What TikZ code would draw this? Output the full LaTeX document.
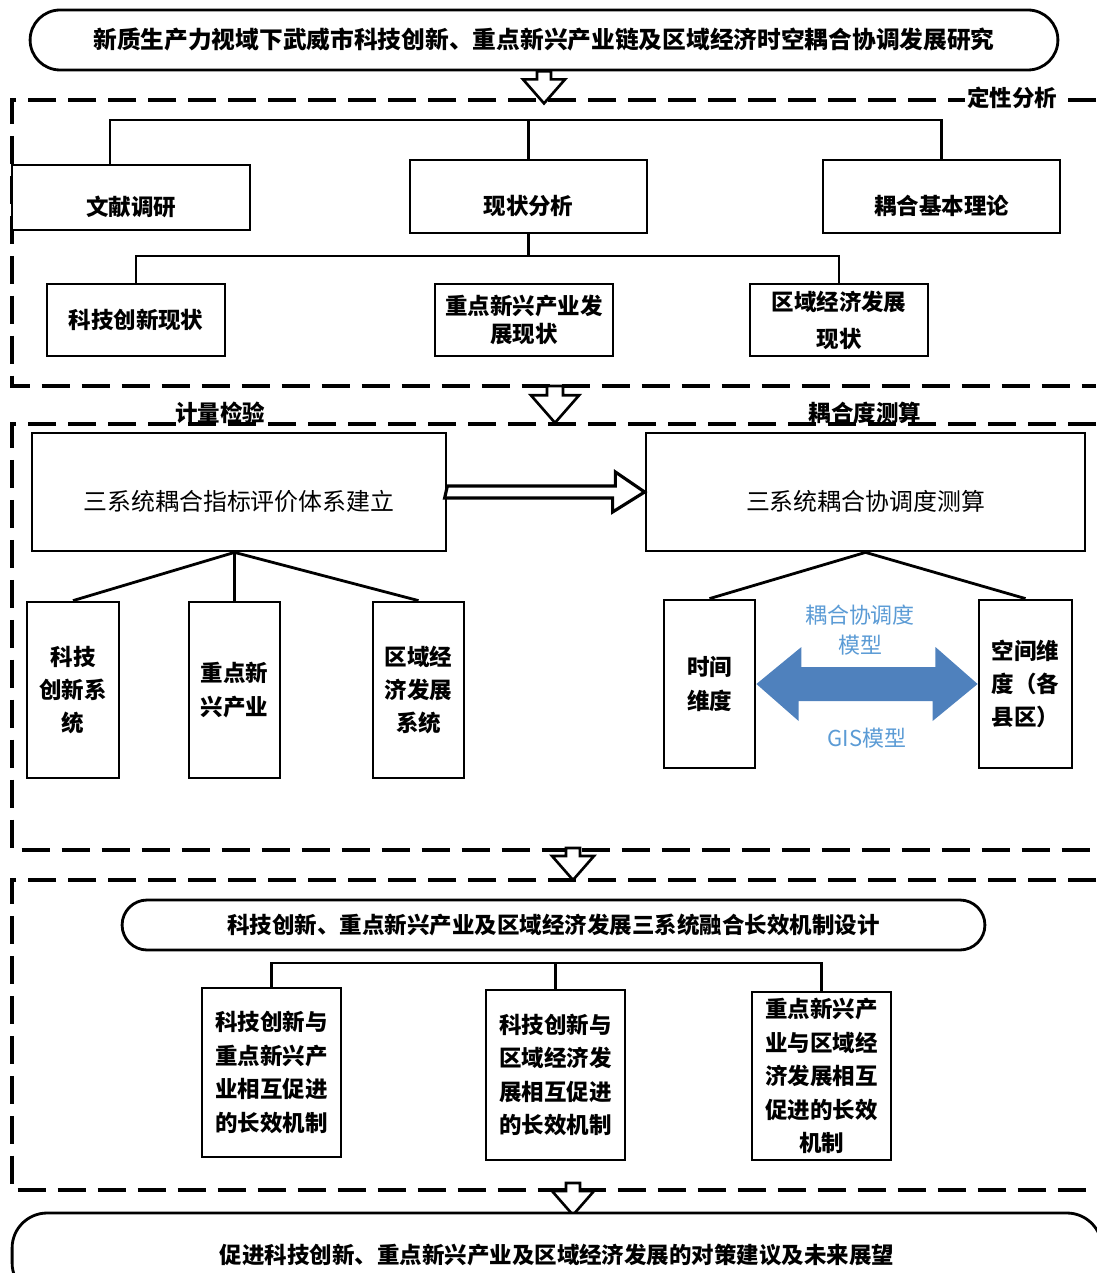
\documentclass[tikz,border=0pt]{standalone}
\usepackage{fontspec}
\setmainfont{Noto Sans CJK SC}
\definecolor{arrowblue}{HTML}{4F81BD}
\definecolor{labelblue}{HTML}{5B9BD5}
\tikzset{x=0.02cm, y=-0.02cm,
    box/.style={draw, line width=1.6pt, fill=white, inner sep=0pt, align=center,
        font=\fontsize{12.8}{19}\selectfont\bfseries},
    lowtext/.style={text height=21pt, text depth=0pt},
    roundbox/.style={box, rounded corners=0.6cm},
    plainbox/.style={box, lowtext, font=\fontsize{13.6}{19}\selectfont},
    link/.style={line width=1.6pt},
    frame/.style={line width=2.4pt, dash pattern=on 0.56cm off 0.24cm},
    tag/.style={font=\fontsize{12.8}{15}\selectfont\bfseries, inner sep=1pt},
    bluetag/.style={font=\fontsize{12.5}{17}\selectfont, text=labelblue, align=center},
    hollow/.style={line width=1.5pt, fill=white, line join=miter},
    downarrow/.pic={\draw[hollow] (-7,0) -- (7,0) -- (7,8) -- (21,8) -- (0,32) -- (-21,8) -- (-7,8) -- cycle;},
    }

\begin{document}
\begin{tikzpicture}
\useasboundingbox (0,0) rectangle (1096,1273);
\node[roundbox, minimum width=20.56cm, minimum height=1.2cm, font=\fontsize{13.5}{19}\selectfont\bfseries] (title) at (544,40)
    {新质生产力视域下武威市科技创新、重点新兴产业链及区域经济时空耦合协调发展研究};
\pic at (title.south) {downarrow};
% qualitative part
\draw[frame] (1096,100) -- (12,100) -- (12,386) -- (1096,386);
\node[tag, fill=white] (dx) at (1012,98) {定性分析};
\node[box, lowtext, minimum width=4.76cm, minimum height=1.3cm] (wxdy) at (131,197.5) {文献调研};
\node[box, lowtext, minimum width=4.74cm, minimum height=1.46cm] (xzfx) at (528.5,196.5) {现状分析};
\node[box, lowtext, minimum width=4.74cm, minimum height=1.46cm] (ohll) at (941.5,196.5) {耦合基本理论};
\draw[link] ([xshift=-4.2mm]wxdy.north) |- (ohll.north |- 0,120) -- (ohll.north);
\draw[link] (xzfx.north |- 0,120) -- (xzfx.north);
\node[box, minimum width=3.56cm, minimum height=1.44cm] (kjxz) at (136,320) {科技创新现状};
\node[box, minimum width=3.56cm, minimum height=1.44cm, font=\fontsize{12.8}{16}\selectfont\bfseries] (cyxz) at (524,320) {重点新兴产业发\\展现状};
\node[box, minimum width=3.56cm, minimum height=1.44cm, font=\fontsize{12.8}{21}\selectfont\bfseries] (qyxz) at (839,320) {区域经济发展\\现状};
\coordinate (mid) at (xzfx.south |- 0,256);
\draw[link] (xzfx.south) -- (mid);
\draw[link] (kjxz.north) |- (mid) -| (qyxz.north);
\pic[scale=1.15] at (555,386) {downarrow};
% measurement part
\draw[frame] (1096,424) -- (12,424) -- (12,850) -- (1096,850);
\node[tag, anchor=south] (jl) at (220,426) {计量检验};
\node[tag, anchor=south] (oh) at (865,426) {耦合度测算};
\node[plainbox, minimum width=8.28cm, minimum height=2.36cm] (zbtx) at (239,492) {三系统耦合指标评价体系建立};
\node[plainbox, minimum width=8.78cm, minimum height=2.36cm] (xtd) at (865.5,492) {三系统耦合协调度测算};
\draw[hollow, line width=1.8pt] (zbtx.east) ++(0,-6) -- ++(168,0) -- ++(0,-14) -- (xtd.west)
    -- ++(-32,20) -- ++(0,-14) -- ++(-168,0) -- cycle;
\node[box, minimum width=1.84cm, minimum height=3.52cm] (kjxt) at (73,690) {科技\\创新系\\统};
\node[box, minimum width=1.82cm, minimum height=3.52cm] (cyxt) at (234.5,690) {重点新\\兴产业};
\node[box, minimum width=1.82cm, minimum height=3.52cm] (qyxt) at (418.5,690) {区域经\\济发展\\系统};
\coordinate (zbfoot) at (cyxt.north |- zbtx.south);
\draw[link] (kjxt.north) -- (zbfoot) -- (qyxt.north);
\draw[link] (zbfoot) -- (cyxt.north);
\node[box, minimum width=1.82cm, minimum height=3.36cm] (sjwd) at (709.5,684) {时间\\维度};
\node[box, minimum width=1.86cm, minimum height=3.36cm] (kjwd) at (1025.5,684) {空间维\\度（各\\县区）};
\draw[link] (sjwd.north) -- (xtd.south) -- (kjwd.north);
\fill[arrowblue] (sjwd.east) -- ++(45,-37) -- ++(0,20) -- ++(134,0) -- ++(0,-20) -- (kjwd.west)
    -- ++(-45,37) -- ++(0,-20) -- ++(-134,0) -- ++(0,20) -- cycle;
\node[bluetag] (ohmx) at (860,630) {耦合协调度\\模型};
\node[bluetag] (gis) at (867,738) {GIS模型};
\pic at (573,848) {downarrow};
% mechanism part
\draw[frame] (1096,880) -- (12,880) -- (12,1190) -- (1096,1190);
\node[roundbox, minimum width=17.26cm, minimum height=1cm, rounded corners=0.5cm] (jz) at (553.5,925)
    {科技创新、重点新兴产业及区域经济发展三系统融合长效机制设计};
\node[box, minimum width=2.78cm, minimum height=3.38cm] (jz1) at (271.5,1072.5) {科技创新与\\重点新兴产\\业相互促进\\的长效机制};
\node[box, minimum width=2.78cm, minimum height=3.4cm] (jz2) at (555.5,1075) {科技创新与\\区域经济发\\展相互促进\\的长效机制};
\node[box, minimum width=2.78cm, minimum height=3.36cm] (jz3) at (821.5,1076) {重点新兴产\\业与区域经\\济发展相互\\促进的长效\\机制};
\draw[link] (jz1.north) |- (jz3.north |- 0,963) -- (jz3.north);
\draw[link] (jz2.north |- 0,963) -- (jz2.north);
\pic at (573,1183) {downarrow};
\node[roundbox, minimum width=21.8cm, minimum height=1.7cm, rounded corners=0.7cm] (dc) at (557,1255.5)
    {促进科技创新、重点新兴产业及区域经济发展的对策建议及未来展望};
\end{tikzpicture}
\end{document}
